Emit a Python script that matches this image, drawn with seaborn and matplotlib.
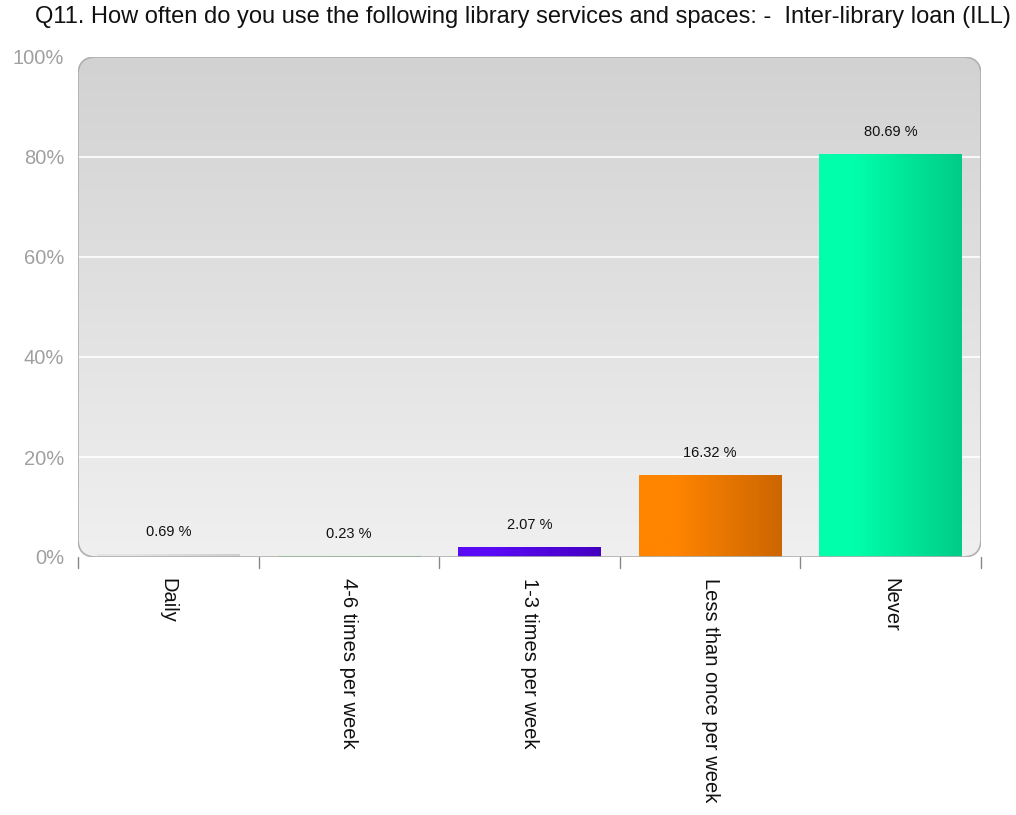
import numpy as np
import pandas as pd
import matplotlib
matplotlib.use("Agg")
import matplotlib.pyplot as plt
import seaborn as sns
from matplotlib.colors import LinearSegmentedColormap
from matplotlib.patches import FancyBboxPatch

categories = ["Daily", "4-6 times per week", "1-3 times per week", "Less than once per week", "Never"]
values = [0.69, 0.23, 2.07, 16.32, 80.69]
colors_left = ["#e4e4e4", "#44ee55", "#5a0af5", "#ff8400", "#00ffaa"]
colors_right = ["#cfcfcf", "#22bb33", "#4400c0", "#cc6600", "#00cc88"]
yticks = [0, 20, 40, 60, 80, 100]

sns.set_theme(style="white")
plt.rcParams["font.family"] = ["Liberation Sans", "DejaVu Sans"]

fig = plt.figure(figsize=(10.16, 8.15), dpi=100)
ax = fig.add_axes([78/1016, 1-557/815, 903/1016, 500/815])

df = pd.DataFrame({"cat": categories, "val": values})
sns.barplot(data=df, x="cat", y="val", ax=ax, width=0.79, color="#cccccc",
            saturation=1, zorder=3, edgecolor="none")

ax.set_ylim(0, 100)
ax.set_xlim(-0.5, len(categories) - 0.5)

# background gradient
bg = LinearSegmentedColormap.from_list("bg", ["#f0f0f0", "#d2d2d2"])
grad = np.linspace(0, 1, 256).reshape(-1, 1)
bgimg = ax.imshow(grad, cmap=bg, aspect="auto", extent=[-0.5, len(categories)-0.5, 0, 100],
                  origin="lower", zorder=0)
frame = FancyBboxPatch((0, 0), 1, 1, boxstyle="round,pad=0,rounding_size=0.02",
                       transform=ax.transAxes, facecolor="none", edgecolor="#b0b0b0",
                       linewidth=1.2, zorder=5, mutation_aspect=903/500)
ax.add_patch(frame)
bgimg.set_clip_path(frame)

for y in yticks[1:-1]:
    ax.axhline(y, color="white", linewidth=1.2, zorder=1)

# gradient bars
for patch, cl, cr in zip(ax.patches, colors_left, colors_right):
    if not hasattr(patch, "get_x"):
        continue
    x0 = patch.get_x(); w = patch.get_width(); h = patch.get_height()
    cmap = LinearSegmentedColormap.from_list("b", [(0, cl), (0.25, cl), (1, cr)])
    gx = np.linspace(0, 1, 256).reshape(1, -1)
    img = ax.imshow(gx, cmap=cmap, aspect="auto", extent=[x0, x0 + w, 0, max(h, 0.3)],
                    zorder=4)
    img.set_clip_path(patch)
    patch.set_facecolor(cr)

for i, v in enumerate(values):
    ax.text(i, v + 3.0, f"{v:.2f} %", ha="center", va="bottom", fontsize=10.5,
            color="#111111", zorder=6)

for s in ax.spines.values():
    s.set_visible(False)
ax.set_yticks(yticks)
ax.set_yticklabels([f"{t}%" for t in yticks], color="#a0a0a0", fontsize=14.5)
ax.set_xticks(range(len(categories)))
ax.set_xticklabels(categories, rotation=-90, fontsize=14.5, color="#111111", va="top", ha="center")
ax.tick_params(axis="x", length=0, pad=15)
ax.tick_params(axis="y", length=0, pad=10)
for b in np.arange(-0.5, len(categories), 1):
    ax.plot([b, b], [0, -2.2], color="#888888", linewidth=1, clip_on=False, zorder=6)
ax.set_xlabel("")
ax.set_ylabel("")

fig.text(523/1016, 1-17/815, "Q11. How often do you use the following library services and spaces: -  Inter-library loan (ILL)",
         ha="center", va="center", fontsize=17, color="#111111")

fig.savefig("out.png", dpi=100, facecolor="white")
